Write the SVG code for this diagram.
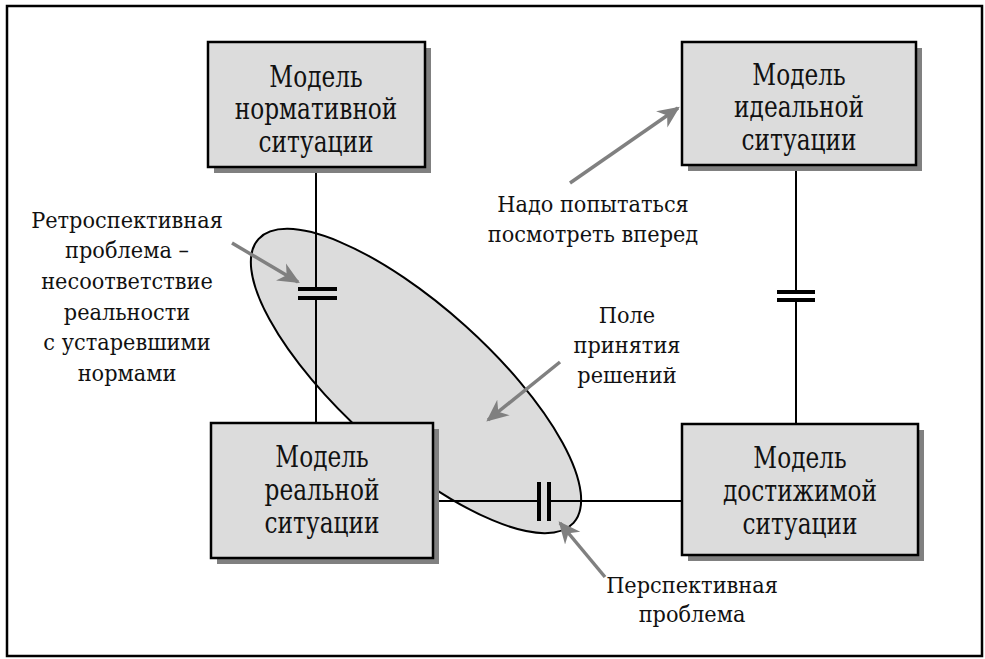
<svg xmlns="http://www.w3.org/2000/svg" width="985" height="659" viewBox="0 0 985 659">
<defs>
<style>
.box{fill:#dcdcdc;stroke:#000;stroke-width:2.5}
.sh{fill:#808080}
.bt{font-family:'DejaVu Serif','Liberation Serif',serif;font-size:30px;fill:#111;text-anchor:middle}
.lt{font-family:'DejaVu Serif','Liberation Serif',serif;font-size:22px;fill:#111;text-anchor:middle}
.ln{stroke:#000;stroke-width:2;fill:none}
.bar{stroke:#000;stroke-width:4}
.ar{stroke:#808080;stroke-width:3.5;fill:none;marker-end:url(#ah)}
</style>
<marker id="ah" viewBox="0 0 10 10" refX="9" refY="5" markerWidth="22" markerHeight="22" markerUnits="userSpaceOnUse" orient="auto">
<path d="M0,0.5 L10,5 L0,9.5 L3,5 Z" fill="#808080"/>
</marker>
</defs>
<rect x="7" y="6" width="975" height="650" fill="#fff" stroke="#000" stroke-width="2.5"/>
<g id="field">
<ellipse cx="416" cy="381" rx="212" ry="74" transform="rotate(42 416 381)" fill="#dcdcdc" stroke="#000" stroke-width="2"/>
</g>
<g id="connectors">
<line class="ln" x1="316" y1="167" x2="316" y2="289"/>
<line class="ln" x1="316" y1="298" x2="316" y2="423"/>
<line class="bar" x1="298" y1="289" x2="337" y2="289"/>
<line class="bar" x1="298" y1="298" x2="337" y2="298"/>
<line class="ln" x1="796" y1="165" x2="796" y2="292"/>
<line class="ln" x1="796" y1="300" x2="796" y2="424"/>
<line class="bar" x1="777" y1="292" x2="815" y2="292"/>
<line class="bar" x1="777" y1="300" x2="815" y2="300"/>
<line class="ln" x1="433" y1="501" x2="539" y2="501"/>
<line class="ln" x1="549" y1="501" x2="682" y2="501"/>
<line class="bar" x1="539" y1="482" x2="539" y2="521"/>
<line class="bar" x1="549" y1="482" x2="549" y2="521"/>
<line class="ar" x1="232" y1="243" x2="298" y2="282"/>
<line class="ar" x1="570" y1="183" x2="678" y2="108"/>
<line class="ar" x1="560" y1="362" x2="488" y2="420"/>
<line class="ar" x1="605" y1="577" x2="560" y2="523"/>
</g>
<g id="n1">
<rect class="sh" x="214" y="48" width="217" height="125"/>
<rect class="box" x="208" y="42" width="217" height="125"/>
<g transform="translate(316,0) scale(0.775,1)">
<text class="bt" x="0" y="87">Модель</text>
<text class="bt" x="0" y="119">нормативной</text>
<text class="bt" x="0" y="152">ситуации</text>
</g>
</g>
<g id="n2">
<rect class="sh" x="688" y="48" width="234" height="123"/>
<rect class="box" x="682" y="42" width="234" height="123"/>
<g transform="translate(799,0) scale(0.775,1)">
<text class="bt" x="0" y="85">Модель</text>
<text class="bt" x="0" y="117">идеальной</text>
<text class="bt" x="0" y="150">ситуации</text>
</g>
</g>
<g id="n3">
<rect class="sh" x="217" y="429" width="222" height="135"/>
<rect class="box" x="211" y="423" width="222" height="135"/>
<g transform="translate(322,0) scale(0.775,1)">
<text class="bt" x="0" y="467">Модель</text>
<text class="bt" x="0" y="500">реальной</text>
<text class="bt" x="0" y="533">ситуации</text>
</g>
</g>
<g id="n4">
<rect class="sh" x="688" y="430" width="236" height="131"/>
<rect class="box" x="682" y="424" width="236" height="131"/>
<g transform="translate(800,0) scale(0.775,1)">
<text class="bt" x="0" y="468">Модель</text>
<text class="bt" x="0" y="501">достижимой</text>
<text class="bt" x="0" y="534">ситуации</text>
</g>
</g>
<g id="labels">
<g transform="translate(127,0) scale(0.95,1)">
<text class="lt" x="0" y="228">Ретроспективная</text>
<text class="lt" x="0" y="258">проблема –</text>
<text class="lt" x="0" y="289">несоответствие</text>
<text class="lt" x="0" y="320">реальности</text>
<text class="lt" x="0" y="350">с устаревшими</text>
<text class="lt" x="0" y="381">нормами</text>
</g>
<g transform="translate(593,0) scale(0.95,1)">
<text class="lt" x="0" y="212">Надо попытаться</text>
<text class="lt" x="0" y="242">посмотреть вперед</text>
</g>
<g transform="translate(627,0) scale(0.95,1)">
<text class="lt" x="0" y="323">Поле</text>
<text class="lt" x="0" y="353">принятия</text>
<text class="lt" x="0" y="383">решений</text>
</g>
<g transform="translate(692,0) scale(0.95,1)">
<text class="lt" x="0" y="593">Перспективная</text>
<text class="lt" x="0" y="622">проблема</text>
</g>
</g>
</svg>
